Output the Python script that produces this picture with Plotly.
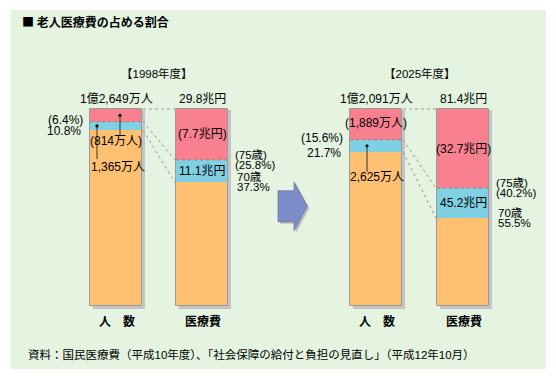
import plotly.graph_objects as go

# ---------------- data ----------------
years = ["【1998年度】", "【2025年度】"]
groups = ["人　数", "医療費", "人　数", "医療費"]
total_labels = ["1億2,649万人", "29.8兆円", "1億2,091万人", "81.4兆円"]
share_75 = [6.4, 25.8, 15.6, 40.2]     # 75歳以上の占める割合 (%)
share_70 = [10.8, 37.3, 21.7, 55.5]    # 70歳以上の占める割合 (%)
amount_75 = ["(814万人)", "(7.7兆円)", "(1,889万人)", "(32.7兆円)"]
amount_70 = ["1,365万人", "11.1兆円", "2,625万人", "45.2兆円"]
title = "■ 老人医療費の占める割合"
source = "資料：国民医療費（平成10年度）、「社会保障の給付と負担の見直し」（平成12年10月）"

# ---------------- layout constants ----------------
PAGE_W, PAGE_H = 556, 379
OFF = 8                      # default body margin of the html page
W, H = PAGE_W - OFF, PAGE_H - OFF
BAR_X = [116, 202, 376, 463]
BAR_W = 52
PX0 = 306.0      # page pixel row of 0 %
PXS = 1.97       # pixels per 1 %
FONT = "Liberation Sans, Noto Sans CJK JP"
FONT_JP = "Noto Sans CJK JP"
TXT = "#000000"
PINK, BLUE, ORANGE = "#F9808F", "#7ED0E2", "#FFC171"
EDGE = "#9a9a9a"


def yd(py):
    """page pixel row -> data value"""
    return (PX0 - py) / PXS


def yp(v):
    return PX0 - v * PXS


orange = [100 - s for s in share_70]
blue = [a - b for a, b in zip(share_70, share_75)]
pink = share_75[:]

fig = go.Figure()

# shadows
fig.add_trace(go.Bar(x=[x + 3 for x in BAR_X], y=[100 + 1] * 4, base=[-1.5] * 4, width=BAR_W,
                     marker=dict(color="#c4c4c4", line=dict(width=0)), hoverinfo="skip", showlegend=False))
# stacked segments
fig.add_trace(go.Bar(x=BAR_X, y=orange, base=[0] * 4, width=BAR_W,
                     marker=dict(color=ORANGE, line=dict(width=0)), showlegend=False))
fig.add_trace(go.Bar(x=BAR_X, y=blue, base=orange, width=BAR_W,
                     marker=dict(color=BLUE, line=dict(width=0)), showlegend=False))
fig.add_trace(go.Bar(x=BAR_X, y=pink, base=[o + b for o, b in zip(orange, blue)], width=BAR_W,
                     marker=dict(color=PINK, line=dict(width=0)), showlegend=False))
# outline
fig.add_trace(go.Bar(x=BAR_X, y=[100] * 4, base=[0] * 4, width=BAR_W,
                     marker=dict(color="rgba(0,0,0,0)", line=dict(width=1, color=EDGE)),
                     hoverinfo="skip", showlegend=False))

shapes = []
# background panel
shapes.append(dict(type="rect", xref="x", yref="y", x0=11, x1=546, y0=yd(369), y1=yd(10),
                   fillcolor="#E4F4E0", line=dict(width=0), layer="below"))

# dotted line at 75 boundary inside bars
for i, x in enumerate(BAR_X):
    yv = 100 - share_75[i]
    shapes.append(dict(type="line", xref="x", yref="y", x0=x - BAR_W / 2, x1=x + BAR_W / 2,
                       y0=yv, y1=yv, line=dict(color="#8a8a8a", width=1, dash="dot")))

# connecting dotted lines between people and medical bars
for g in range(2):
    p, m = 2 * g, 2 * g + 1
    xa = BAR_X[p] + BAR_W / 2 + 1
    xb = BAR_X[m] - BAR_W / 2 - 1
    for va, vb in [(100, 100), (100 - share_75[p], 100 - share_75[m]),
                   (100 - share_70[p], 100 - share_70[m])]:
        shapes.append(dict(type="line", xref="x", yref="y", x0=xa, x1=xb, y0=va, y1=vb,
                           line=dict(color="#9a9a9a", width=1, dash="dot")))


def leader(x, v, py_end):
    py = yp(v)
    shapes.append(dict(type="line", xref="x", yref="y", x0=x, x1=x, y0=v, y1=yd(py_end),
                       line=dict(color="#333", width=1)))
    r = 1.6
    shapes.append(dict(type="circle", xref="x", yref="y", x0=x - r, x1=x + r,
                       y0=yd(py + r), y1=yd(py - r), fillcolor="#111", line=dict(width=0)))


# leaders (dots at segment centres)
leader(120, 100 - pink[0] / 2, 135)
leader(97, orange[0] + blue[0] / 2, 159)
leader(367, orange[2] + blue[2] / 2, 172)

# arrow
arrow_px = [(278, 190.7), (294, 190.7), (294, 182), (307.3, 206), (294, 231), (294, 221.7), (278, 221.7)]


def path(pts, dx=0, dy=0):
    return "M " + " L ".join(f"{x + dx},{yd(y + dy)}" for x, y in pts) + " Z"


shapes.append(dict(type="path", xref="x", yref="y", path=path(arrow_px, 2, 2),
                   fillcolor="#b9c0b9", line=dict(width=0)))
shapes.append(dict(type="path", xref="x", yref="y", path=path(arrow_px),
                   fillcolor="#7E8CCA", line=dict(width=0.6, color="#5b679f")))

ann = []


def text(x, py, s, anchor="center", size=12, bold=False, family=FONT):
    if bold:
        s = f"<b>{s}</b>"
    ann.append(dict(x=x, y=yd(py), xref="x", yref="y", text=s, showarrow=False,
                    xanchor=anchor, yanchor="middle",
                    font=dict(family=family, size=size, color=TXT)))


text(20, 21, title, "left", 12, True, FONT_JP)
text((BAR_X[0] + BAR_X[1]) / 2 - 2, 73, years[0], size=11.5)
text((BAR_X[2] + BAR_X[3]) / 2, 73, years[1], size=11.5)

for i, x in enumerate(BAR_X):
    text(x, 99, total_labels[i])
    text(x + 1, 320, groups[i], bold=True, family=FONT_JP)

# medical bars: amounts inside segments, shares to the right
for i in (1, 3):
    x = BAR_X[i]
    text(x, yp(100 - pink[i] / 2), amount_75[i])
    text(x, yp(orange[i] + blue[i] / 2), amount_70[i])
    xr = x + BAR_W / 2 + 5
    b75 = yp(100 - share_75[i])
    b70 = yp(100 - share_70[i])
    text(xr, b75 - 5, "(75歳)", "left", 11.5)
    text(xr, b75 + 5, f"({share_75[i]}%)", "left", 11.5)
    text(xr + 2, b70 - 5, "70歳", "left", 11.5)
    text(xr + 2, b70 + 5, f"{share_70[i]}%", "left", 11.5)

# people bars: shares to the left
for i in (0, 2):
    xl = BAR_X[i] - BAR_W / 2
    text(xl - 5, yp(100 - share_75[i]) - 1.5, f"({share_75[i]}%)", "right")
    text(xl - 7, yp(100 - share_70[i]) + 1, f"{share_70[i]}%", "right")

# people bars: amounts
text(116, 141, amount_75[0])
text(118, 167, amount_70[0])
text(376, yp(100 - pink[2] / 2) - 1, amount_75[2])
text(377, 177, amount_70[2])

text(26, 354, source, "left", 11.5)

fig.update_layout(
    width=W, height=H, autosize=False,
    margin=dict(l=0, r=0, t=0, b=0, pad=0),
    paper_bgcolor="white", plot_bgcolor="rgba(0,0,0,0)",
    barmode="overlay", bargap=0,
    xaxis=dict(range=[OFF, PAGE_W], visible=False, fixedrange=True),
    yaxis=dict(range=[yd(PAGE_H), yd(OFF)], visible=False, fixedrange=True),
    shapes=shapes, annotations=ann, showlegend=False,
)

fig.write_html("out.html")
